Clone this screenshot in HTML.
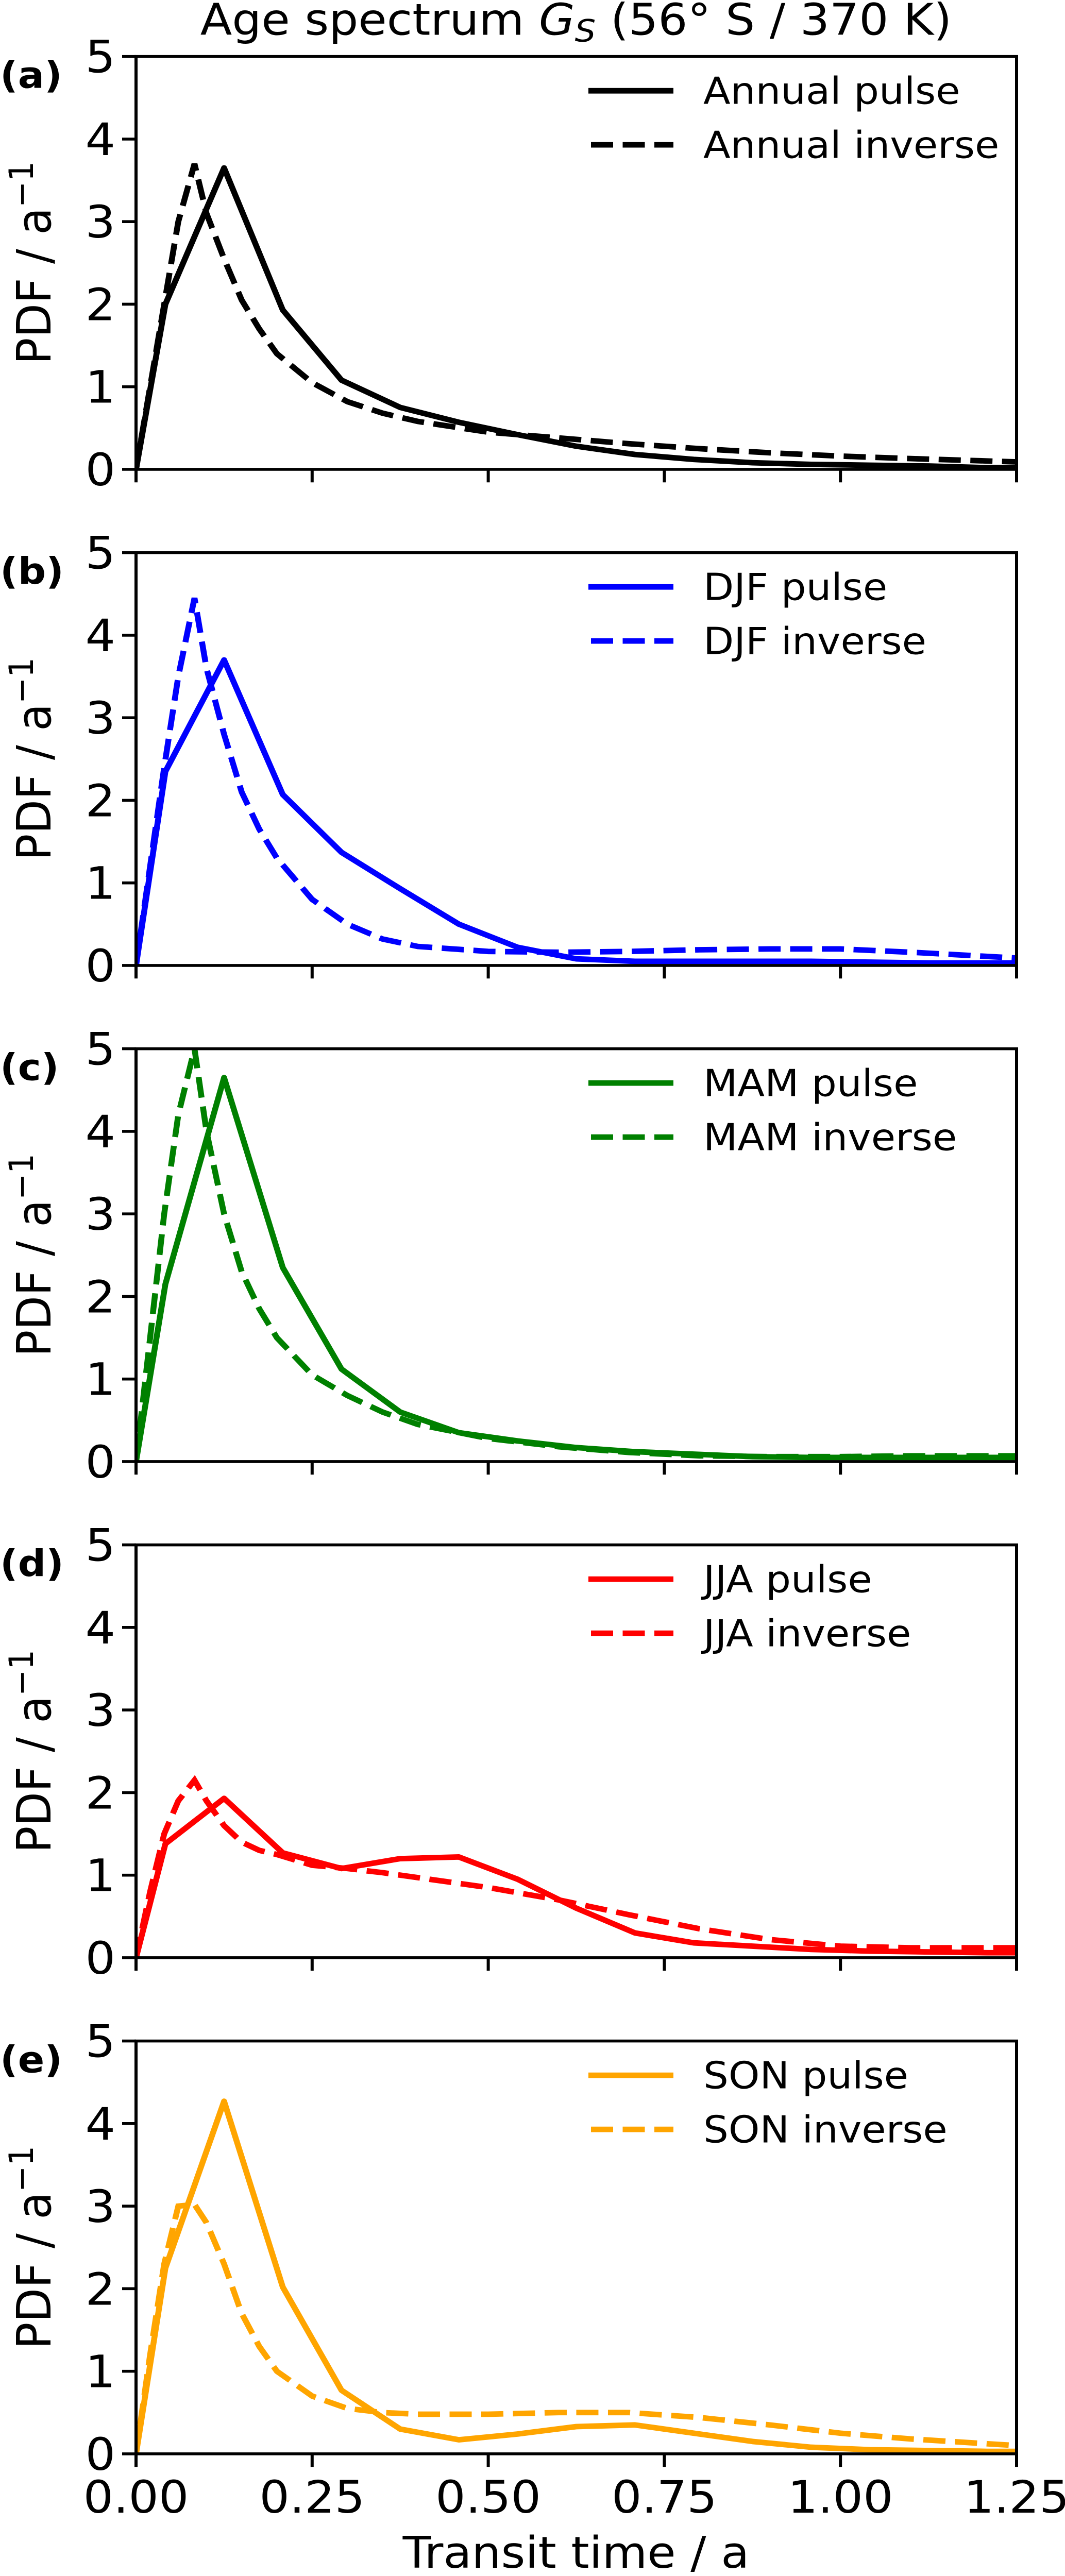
<!DOCTYPE html>
<html><head><meta charset="utf-8"><title>Age spectrum</title>
<style>html,body{margin:0;padding:0;background:#fff;overflow:hidden;width:100%;height:100%}svg{display:block;position:absolute;left:0;top:0;width:100vw;height:100vh}text{font-family:"DejaVu Sans","Liberation Sans",sans-serif}</style>
</head><body>
<svg id="chart" viewBox="0 0 2067 5335" preserveAspectRatio="none" xmlns="http://www.w3.org/2000/svg">
<text x="1118" y="72" font-size="90" text-anchor="middle">Age spectrum <tspan font-style="italic">G</tspan><tspan font-style="italic" font-size="64" dy="14">S</tspan><tspan dy="-14"> (56° S / 370 K)</tspan></text>
<g id="panels"></g>
<text x="1118" y="5318" font-size="90" text-anchor="middle">Transit time / a</text>
</svg>
<script>
const pulseX = [0,0.0417,0.125,0.2083,0.2917,0.375,0.4583,0.5417,0.625,0.7083,0.7917,0.875,0.9583,1.0417,1.125,1.2083,1.25];
const invX = [0,0.02,0.04,0.06,0.083,0.1,0.125,0.15,0.175,0.2,0.25,0.3,0.35,0.4,0.5,0.6,0.7,0.8,0.9,1.0,1.1,1.25];
const panelLabels = ["(a)","(b)","(c)","(d)","(e)"];
const seriesNames = ["Annual","DJF","MAM","JJA","SON"];
const seriesColors = ["#000000","#0000ff","#008000","#ff0000","#ffa500"];
const annualPulse = [0,2.0,3.65,1.93,1.08,0.75,0.57,0.42,0.28,0.18,0.12,0.08,0.06,0.05,0.04,0.02,0.02];
const annualInverse = [0,1.0,2.0,3.0,3.7,3.1,2.55,2.05,1.7,1.4,1.05,0.82,0.68,0.58,0.45,0.38,0.31,0.25,0.2,0.16,0.13,0.09];
const djfPulse = [0,2.35,3.7,2.07,1.37,0.93,0.5,0.22,0.08,0.05,0.05,0.05,0.05,0.04,0.03,0.03,0.03];
const djfInverse = [0,1.2,2.4,3.5,4.45,3.6,2.8,2.1,1.65,1.3,0.8,0.5,0.32,0.23,0.17,0.16,0.17,0.19,0.2,0.2,0.16,0.09];
const mamPulse = [0,2.15,4.65,2.35,1.12,0.6,0.35,0.25,0.17,0.12,0.09,0.06,0.05,0.05,0.05,0.05,0.05];
const mamInverse = [0,1.5,3.0,4.2,5.0,4.0,3.0,2.3,1.85,1.5,1.05,0.8,0.6,0.45,0.28,0.18,0.11,0.07,0.06,0.06,0.07,0.07];
const jjaPulse = [0,1.38,1.93,1.27,1.08,1.2,1.22,0.95,0.6,0.3,0.18,0.14,0.1,0.08,0.07,0.06,0.06];
const jjaInverse = [0,0.8,1.5,1.9,2.15,1.9,1.6,1.4,1.3,1.25,1.12,1.08,1.03,0.97,0.85,0.7,0.52,0.35,0.22,0.14,0.12,0.12];
const sonPulse = [0,2.25,4.27,2.02,0.77,0.3,0.17,0.24,0.33,0.35,0.25,0.15,0.08,0.05,0.04,0.03,0.03];
const sonInverse = [0,1.2,2.3,3.0,3.02,2.8,2.3,1.7,1.3,1.0,0.7,0.55,0.5,0.48,0.48,0.5,0.5,0.44,0.35,0.25,0.18,0.1];
const yTicks = [0,1,2,3,4,5];
const xTicks = [0,0.25,0.5,0.75,1.0,1.25];
const xTickLabels = ["0.00","0.25","0.50","0.75","1.00","1.25"];

const pulses=[annualPulse,djfPulse,mamPulse,jjaPulse,sonPulse];
const inverses=[annualInverse,djfInverse,mamInverse,jjaInverse,sonInverse];
const NS="http://www.w3.org/2000/svg";
const root=document.getElementById('panels');
const L=264,R=1973,H=855,T0=117,STEP=1027.5;
function mk(tag,attrs,parent){const e=document.createElementNS(NS,tag);for(const k in attrs)e.setAttribute(k,attrs[k]);parent.appendChild(e);return e;}
function xs(v){return L+(v/1.25)*(R-L);}
for(let p=0;p<5;p++){
  const top=T0+p*STEP,bot=top+H;
  const ys=v=>bot-(v/5)*H;
  const g=mk('g',{},root);
  
  
  const clipId='clip'+p;
  const cp=mk('clipPath',{id:clipId},g);mk('rect',{x:L,y:top-6,width:R-L,height:H+6},cp);
  const lineP=mk('polyline',{points:pulseX.map((x,i)=>xs(x)+','+ys(pulses[p][i])).join(' '),fill:'none',stroke:seriesColors[p],'stroke-width':11.5,'stroke-linejoin':'round','clip-path':'url(#'+clipId+')'},g);
  
  
  const lineI=mk('polyline',{points:invX.map((x,i)=>xs(x)+','+ys(inverses[p][i])).join(' '),fill:'none',stroke:seriesColors[p],'stroke-width':11.5,'stroke-dasharray':'43 18.5','clip-path':'url(#'+clipId+')'},g);
  
  
  const frame=mk('rect',{x:L,y:top,width:R-L,height:H,fill:'none',stroke:'#000','stroke-width':6},g);
  
  
  yTicks.forEach(v=>{
    mk('line',{x1:L-27,x2:L,y1:ys(v),y2:ys(v),stroke:'#000','stroke-width':6},g);
    const t=mk('text',{x:L-40,y:ys(v)+33,'font-size':92,'text-anchor':'end'},g);t.textContent=v;
    
    
  });
  xTicks.forEach((v,i)=>{
    mk('line',{x1:xs(v),x2:xs(v),y1:bot,y2:bot+27,stroke:'#000','stroke-width':6},g);
    if(p===4){const t=mk('text',{x:xs(v),y:5204,'font-size':92,'text-anchor':'middle'},g);t.textContent=xTickLabels[i];
      
      }
  });
  const yl=mk('text',{x:0,y:0,'font-size':92,'text-anchor':'middle',transform:'translate(98,'+(top+H/2)+') rotate(-90)'},g);
  yl.innerHTML='PDF / a<tspan font-size="65" dy="-34">−1</tspan>';
  
  
  const pl=mk('text',{x:0,y:top+65,'font-size':76,'font-weight':'bold'},g);pl.textContent=panelLabels[p];
  
  
  const lg=mk('g',{},g);
  
  
  mk('line',{x1:1142,x2:1307,y1:top+71,y2:top+71,stroke:seriesColors[p],'stroke-width':11.5},lg);
  mk('line',{x1:1147,x2:1307,y1:top+183,y2:top+183,stroke:seriesColors[p],'stroke-width':11.5,'stroke-dasharray':'43 18.5'},lg);
  const t1=mk('text',{x:1365,y:top+98,'font-size':77},lg);t1.textContent=seriesNames[p]+' pulse';
  
  
  const t2=mk('text',{x:1365,y:top+210,'font-size':77},lg);t2.textContent=seriesNames[p]+' inverse';
  
  
}
</script>
</body></html>
